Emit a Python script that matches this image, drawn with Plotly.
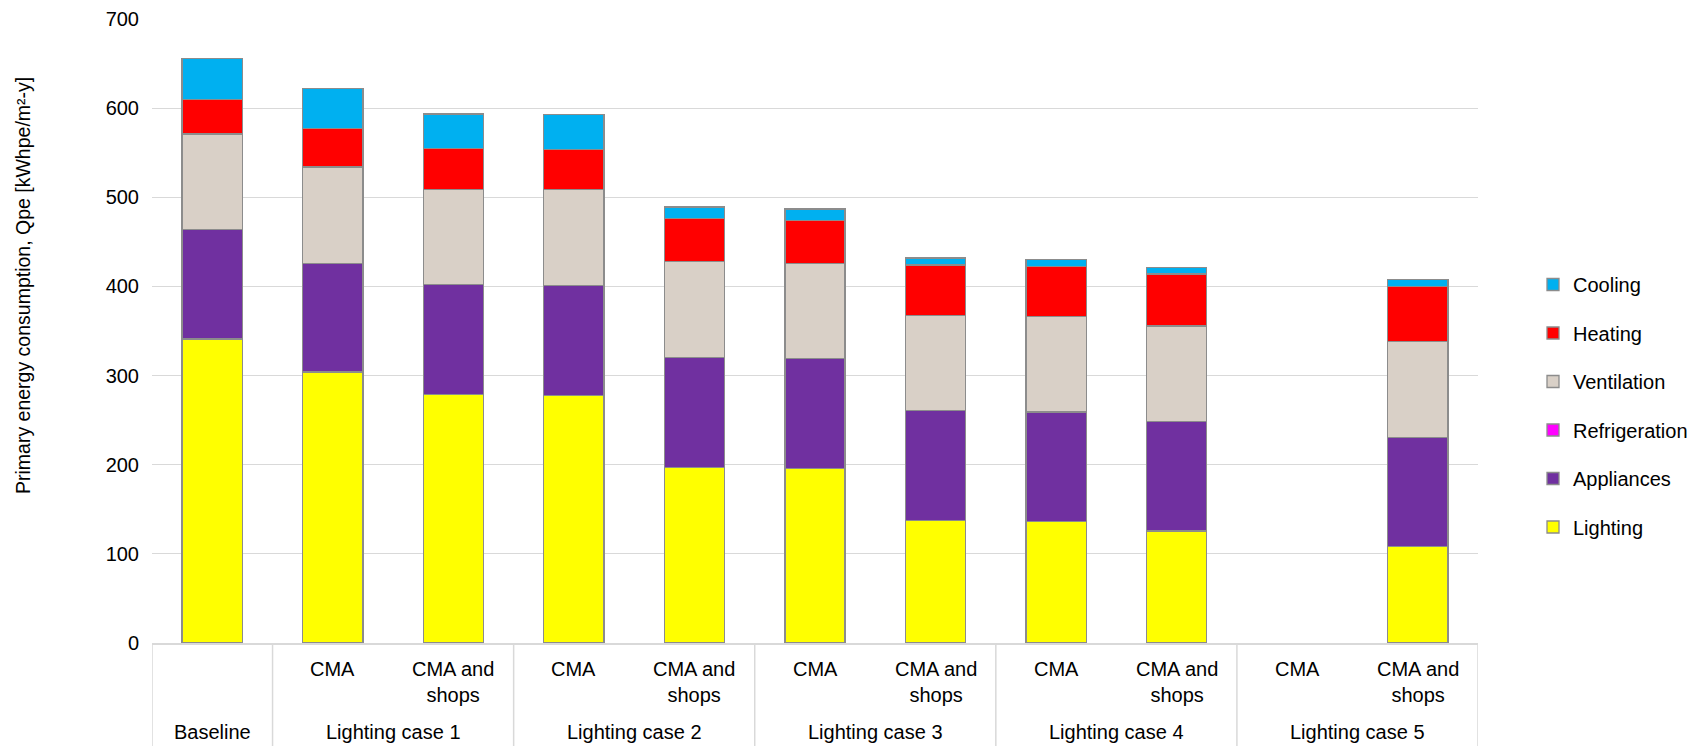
import plotly.graph_objects as go

groups = ["Baseline", "Lighting case 1", "Lighting case 1", "Lighting case 2", "Lighting case 2",
          "Lighting case 3", "Lighting case 3", "Lighting case 4", "Lighting case 4",
          "Lighting case 5", "Lighting case 5"]
subs = ["", "CMA", "CMA and<br>shops", "CMA", "CMA and<br>shops", "CMA", "CMA and<br>shops",
        "CMA", "CMA and<br>shops", "CMA", "CMA and<br>shops"]

lighting = [341, 304, 279, 278, 197, 196, 137.5, 136, 125.5, None, 108]
appliances = [123, 122, 123, 123, 123, 123, 123, 123, 123, None, 122.5]
refrigeration = [0, 0, 0, 0, 0, 0, 0, 0, 0, None, 0]
ventilation = [107, 108, 107, 108, 108, 107, 107, 107, 107, None, 107.5]
heating = [39, 43, 46, 45, 48, 48, 56.5, 56.5, 58.5, None, 62]
cooling = [46, 45, 38.5, 38.5, 13, 13, 8, 7.5, 7, None, 8]

series = [
    ("Lighting", lighting, "#FFFF00"),
    ("Appliances", appliances, "#7030A0"),
    ("Refrigeration", refrigeration, "#FF00FF"),
    ("Ventilation", ventilation, "#D9D0C7"),
    ("Heating", heating, "#FF0000"),
    ("Cooling", cooling, "#00B0F0"),
]

keys = [f"{g}|{s}" for g, s in zip(groups, subs)]
FONT = "Liberation Sans, Arial, sans-serif"

fig = go.Figure()
n = len(series)
for i, (name, vals, col) in enumerate(series):
    fig.add_trace(go.Bar(
        x=keys, y=vals, name=name, legendgroup=name, legendrank=n - i,
        marker=dict(color=col, line=dict(color="#8C8C8C", width=1.3)),
        width=0.5,
    ))

# plot area in px: left 152, right 1478, top 19, bottom 643
PT, PB = 19, 643
H = PB - PT

def py(p):
    return (PB - p) / H

annotations = []
for i, (k, s) in enumerate(zip(keys, subs)):
    if s:
        annotations.append(dict(x=k, xref="x", y=py(656), yref="paper", text=s,
                                showarrow=False, yanchor="top", xanchor="center",
                                font=dict(size=20, color="#000000", family=FONT)))

group_names = []
for g in groups:
    if g not in group_names:
        group_names.append(g)
for g in group_names:
    idx = [i for i, gg in enumerate(groups) if gg == g]
    cx = (idx[0] + idx[-1]) / 2
    annotations.append(dict(x=cx, xref="x", y=py(732), yref="paper", text=g,
                            showarrow=False, yanchor="middle", xanchor="center",
                            font=dict(size=20, color="#000000", family=FONT)))

annotations.append(dict(x=(23 - 152) / (1478 - 152), xref="paper", y=py(286), yref="paper",
                        text="Primary energy consumption, Qpe [kWhpe/m²-y]",
                        textangle=-90, showarrow=False, xanchor="center", yanchor="middle",
                        font=dict(size=19.5, color="#000000", family=FONT)))

shapes = []
bounds = [-0.5]
for i in range(1, len(groups)):
    if groups[i] != groups[i - 1]:
        bounds.append(i - 0.5)
bounds.append(len(groups) - 0.5)
for b in bounds:
    shapes.append(dict(type="line", xref="x", x0=b, x1=b, yref="paper", y0=0, y1=py(746),
                       line=dict(color="#D9D9D9", width=1.5)))

fig.update_layout(
    width=1707, height=746,
    margin=dict(l=152, r=1707 - 1478, t=PT, b=746 - PB, autoexpand=False),
    paper_bgcolor="white", plot_bgcolor="white",
    barmode="stack",
    bargap=0.5,
    font=dict(family=FONT, size=20, color="#000000"),
    xaxis=dict(type="category", showticklabels=False, showgrid=False,
               showline=True, linecolor="#D9D9D9", linewidth=1.5, ticks="",
               range=[-0.5, len(keys) - 0.5], fixedrange=True),
    yaxis=dict(range=[0, 700], dtick=100, showgrid=True, gridcolor="#D9D9D9", gridwidth=1.3,
               zeroline=False, showline=False, ticks="", ticklabelstandoff=12,
               tickfont=dict(size=20, color="#000000", family=FONT)),
    legend=dict(x=(1533 - 152) / (1478 - 152), xanchor="left", y=py(406), yanchor="middle",
                traceorder="grouped", tracegroupgap=19.5,
                font=dict(size=20, color="#000000", family=FONT),
                bgcolor="rgba(0,0,0,0)", itemwidth=30),
    annotations=annotations,
    shapes=shapes,
)

fig.write_html("out.html")
